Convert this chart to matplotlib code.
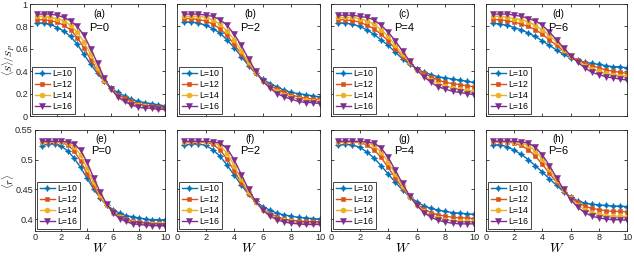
import matplotlib.pyplot as plt
import numpy as np

plt.rcParams['font.family'] = ['Liberation Sans', 'DejaVu Sans']
plt.rcParams['mathtext.fontset'] = 'cm'

W = [0.5, 1.0, 1.5, 2.0, 2.5, 3.0, 3.5, 4.0, 4.5, 5.0,
     5.5, 6.0, 6.5, 7.0, 7.5, 8.0, 8.5, 9.0, 9.5, 10.0]
sizes = ['L=10', 'L=12', 'L=14', 'L=16']

# top row: normalised entanglement entropy
S_P0 = [
    [.83, .83, .82, .79, .76, .71, .64, .55, .46, .38, .31, .25, .21, .18, .15, .13, .12, .11, .10, .09],
    [.86, .86, .85, .84, .81, .77, .70, .61, .50, .40, .31, .25, .19, .16, .13, .11, .10, .09, .08, .08],
    [.89, .89, .88, .87, .85, .81, .75, .66, .55, .43, .32, .24, .18, .14, .11, .10, .09, .08, .07, .07],
    [.91, .91, .91, .90, .88, .85, .80, .72, .60, .47, .34, .24, .17, .13, .10, .08, .07, .07, .06, .06],
]
S_P2 = [
    [.84, .84, .83, .81, .78, .74, .68, .61, .53, .45, .38, .33, .29, .26, .23, .21, .20, .19, .18, .17],
    [.87, .87, .86, .85, .82, .78, .72, .64, .55, .46, .38, .32, .27, .24, .21, .19, .17, .16, .15, .15],
    [.89, .89, .89, .88, .86, .82, .76, .68, .58, .48, .39, .31, .26, .22, .19, .17, .15, .14, .13, .13],
    [.91, .91, .91, .90, .89, .86, .81, .73, .63, .51, .40, .31, .25, .20, .17, .15, .13, .12, .12, .11],
]
S_P4 = [
    [.83, .83, .82, .80, .77, .73, .68, .63, .57, .51, .46, .42, .39, .37, .35, .34, .33, .32, .31, .30],
    [.86, .86, .85, .84, .81, .78, .73, .67, .60, .53, .47, .42, .38, .35, .32, .30, .29, .28, .27, .26],
    [.88, .88, .88, .87, .85, .82, .77, .71, .63, .55, .48, .41, .36, .32, .29, .27, .25, .24, .23, .22],
    [.90, .90, .90, .89, .88, .86, .81, .75, .67, .58, .49, .41, .35, .30, .26, .24, .22, .21, .20, .19],
]
S_P6 = [
    [.83, .82, .81, .79, .77, .74, .71, .67, .63, .59, .55, .52, .50, .48, .47, .46, .45, .44, .44, .43],
    [.86, .86, .85, .84, .82, .80, .77, .73, .68, .63, .58, .53, .50, .47, .45, .43, .41, .40, .39, .38],
    [.89, .89, .88, .87, .86, .84, .81, .77, .72, .66, .59, .54, .49, .45, .42, .40, .38, .37, .36, .36],
    [.91, .91, .91, .90, .89, .87, .85, .81, .75, .68, .61, .54, .48, .43, .39, .37, .35, .34, .33, .32],
]

# bottom row: mean gap ratio
r_P0 = [
    [.523, .527, .527, .523, .515, .503, .487, .469, .451, .436, .424, .416, .410, .406, .404, .402, .400, .399, .399, .398],
    [.529, .530, .530, .529, .525, .515, .498, .476, .455, .437, .423, .413, .405, .400, .397, .395, .394, .393, .393, .392],
    [.530, .531, .531, .530, .528, .522, .508, .486, .462, .440, .423, .411, .403, .398, .395, .393, .392, .391, .391, .391],
    [.531, .531, .531, .531, .530, .527, .516, .496, .470, .446, .426, .411, .401, .396, .392, .391, .390, .389, .389, .389],
]
r_P2 = [
    [.524, .527, .527, .524, .517, .506, .491, .474, .457, .442, .430, .421, .415, .410, .407, .405, .403, .402, .401, .400],
    [.529, .530, .530, .529, .526, .517, .501, .481, .461, .443, .428, .417, .409, .404, .400, .398, .397, .396, .396, .395],
    [.530, .531, .531, .530, .529, .524, .511, .490, .467, .446, .429, .416, .407, .401, .398, .396, .394, .393, .393, .393],
    [.531, .531, .531, .531, .530, .528, .519, .500, .475, .450, .430, .415, .405, .399, .395, .393, .392, .391, .391, .391],
]
r_P4 = [
    [.524, .526, .525, .521, .513, .503, .490, .476, .462, .449, .438, .429, .422, .418, .415, .413, .411, .410, .409, .408],
    [.529, .530, .530, .529, .525, .517, .504, .487, .469, .452, .437, .425, .417, .411, .407, .405, .403, .402, .402, .401],
    [.530, .531, .531, .530, .529, .524, .513, .496, .476, .456, .438, .424, .413, .406, .402, .399, .397, .396, .396, .396],
    [.531, .531, .531, .531, .530, .528, .520, .504, .482, .460, .439, .423, .411, .403, .398, .395, .393, .392, .392, .392],
]
r_P6 = [
    [.525, .525, .522, .516, .509, .500, .490, .479, .468, .457, .446, .437, .431, .427, .425, .424, .423, .422, .422, .421],
    [.530, .530, .530, .528, .524, .517, .506, .492, .477, .462, .448, .437, .428, .422, .418, .416, .414, .413, .413, .412],
    [.531, .531, .531, .530, .528, .524, .515, .501, .484, .466, .449, .435, .424, .416, .411, .408, .406, .405, .405, .404],
    [.531, .531, .531, .531, .530, .528, .521, .508, .490, .470, .450, .433, .420, .411, .405, .402, .400, .399, .399, .398],
]

top_data = [S_P0, S_P2, S_P4, S_P6]
bot_data = [r_P0, r_P2, r_P4, r_P6]
p_labels = ['P=0', 'P=2', 'P=4', 'P=6']
letters_top = ['(a)', '(b)', '(c)', '(d)']
letters_bot = ['(e)', '(f)', '(g)', '(h)']

colors = ['#0072BD', '#D95319', '#EDB120', '#7E2F8E']
markers = [(4, 1, 0), 's', 'o', 'v']
msizes = [4.5, 3.2, 3.6, 4.0]

fig = plt.figure(figsize=(6.34, 2.56), dpi=100)
W_px, H_px = 634.0, 256.0
lefts = [30, 177, 331, 486]
rights = [165, 320, 474, 627]


def axes_px(l, r, top, bot):
    return fig.add_axes([l / W_px, 1 - bot / H_px, (r - l) / W_px, (bot - top) / H_px])


def style(ax):
    ax.tick_params(direction='in', top=True, right=True, labelsize=6.6,
                   length=2.5, width=0.6, colors='#262626', pad=1.5)
    for s in ax.spines.values():
        s.set_color('#262626')
        s.set_linewidth(0.6)


for i in range(4):
    for row in range(2):
        if row == 0:
            l = lefts[i]
            ax = axes_px(l, rights[i], 4, 116)
            data = top_data[i]
            letter = letters_top[i]
        else:
            l = 35 if i == 0 else lefts[i]
            ax = axes_px(l, rights[i], 130, 231)
            data = bot_data[i]
            letter = letters_bot[i]
        for k in range(4):
            ax.plot(W, data[k], color=colors[k], marker=markers[k], ms=msizes[k],
                    lw=1.0, label=sizes[k], markeredgewidth=0.4)
        ax.set_xlim(0, 10)
        ax.set_xticks([0, 2, 4, 6, 8, 10])
        if row == 0:
            ax.set_ylim(0, 1)
            ax.set_yticks([0, 0.2, 0.4, 0.6, 0.8, 1])
            ax.set_yticklabels(['0', '0.2', '0.4', '0.6', '0.8', '1'])
            ax.set_xticklabels([])
        else:
            ax.set_ylim(0.38, 0.55)
            ax.set_yticks([0.4, 0.45, 0.5, 0.55])
            ax.set_yticklabels(['0.4', '0.45', '0.5', '0.55'])
            ax.set_xlabel('$W$', fontsize=9.5)
            ax.xaxis.set_label_coords(0.5, -0.11)
        if i > 0:
            ax.set_yticklabels([])
        style(ax)
        ax.text(0.51, 0.91, letter, transform=ax.transAxes, ha='center', va='center', fontsize=7)
        ax.text(0.51, 0.79, p_labels[i], transform=ax.transAxes, ha='center', va='center', fontsize=8)
        leg = ax.legend(loc='lower left', fontsize=6.3, handlelength=1.7, handletextpad=0.3,
                        borderpad=0.3, labelspacing=0.22, borderaxespad=0.25, fancybox=False,
                        framealpha=1)
        leg.get_frame().set_edgecolor('#262626')
        leg.get_frame().set_linewidth(0.6)
        if i == 0:
            if row == 0:
                ax.set_ylabel(r'$\overline{\langle S\rangle}/S_P$', fontsize=6.8, va='center')
                ax.yaxis.set_label_coords((7.2 - l) / (rights[i] - l), 0.5)
            else:
                ax.set_ylabel(r'$\overline{\langle r\rangle}$', fontsize=7.5, va='center')
                ax.yaxis.set_label_coords((8 - l) / (rights[i] - l), 0.5)

fig.savefig('out.png', dpi=100)
